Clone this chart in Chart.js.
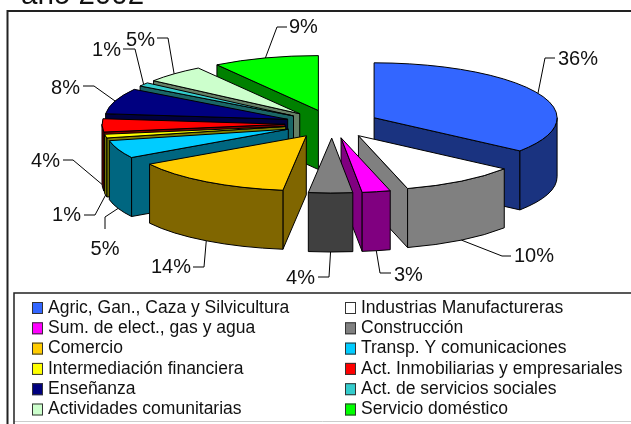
<!DOCTYPE html>
<html><head><meta charset="utf-8">
<style>html,body{margin:0;padding:0;background:#fff;overflow:hidden}canvas{display:block}</style>
<script src="https://cdn.jsdelivr.net/npm/chart.js@4"></script>
</head><body><div style="width:631px;height:424px;position:relative"><canvas id="c" width="631" height="424"></canvas></div>
<script>
const titleText = "año 2002";
const categories = ["Agric, Gan., Caza y Silvicultura","Industrias Manufactureras","Sum. de elect., gas y agua","Construcción","Comercio","Transp. Y comunicaciones","Intermediación financiera","Act. Inmobiliarias y empresariales","Enseñanza","Act. de servicios sociales","Actividades comunitarias","Servicio doméstico"];
const shares = [35.5,10.4,2.5,3.9,14.4,5.3,1.1,3.9,7.6,1.1,5.4,9.4];
const tickLabels = ["36%","10%","3%","4%","14%","5%","1%","4%","8%","1%","5%","9%"];
const topColors = ["#3366FF","#FFFFFF","#FF00FF","#808080","#FFCC00","#00CCFF","#FFFF00","#FF0000","#000080","#33CCCC","#CCFFCC","#00FF00"];
const sideColors = ["#1A3380","#808080","#800080","#404040","#806600","#006680","#808000","#800000","#000040","#1A6666","#668066","#008000"];
// label layout: elbow, end of leader, text anchor
const labelLeaders = [
 [[545,58],[555,58]],[[502,256],[511,256]],[[380,273],[391,273]],[[329,277],[318,277]],
 [[204,267],[193,267]],[[105,217],[105,229]],[[95,215],[84,215]],[[73,160],[63,160]],
 [[94,86],[83,86]],[[135,49],[123,49]],[[168,38],[157,38]],[[277,27],[287,27]]];
const labelPos = [[558,59,'left'],[514,256,'left'],[394,275,'left'],[315,278,'right'],[191,267,'right'],[105,249,'center'],[81,215,'right'],[60,161,'right'],[80,88,'right'],[121,50,'right'],[155,40,'right'],[289,27,'left']];
const SQUASH = 0.3, DEPTH = 59, RADIUS = 183, EXPLODE = 188;
const font = s => s + "px 'Liberation Sans', Arial, sans-serif";

const pie3d = {
  id:'pie3d',
  beforeDatasetsDraw(chart){
    const ctx = chart.ctx, arcs = chart.getDatasetMeta(0).data;
    const items = arcs.map((arc,i)=>{
      const p = arc.getProps(['x','y','startAngle','endAngle','outerRadius']);
      const mid = (p.startAngle+p.endAngle)/2, off = arc.options.offset/4;
      return {i,a0:p.startAngle,a1:p.endAngle,r:p.outerRadius,mid,
        x:p.x+Math.cos(mid)*off, y:p.y+Math.sin(mid)*off*SQUASH};
    });
    const sorted = items.slice().sort((u,v)=>Math.sin(u.mid)-Math.sin(v.mid));
    ctx.save();
    ctx.lineWidth = 1; ctx.strokeStyle = '#000'; ctx.lineJoin = 'round';
    const pt = (s,a)=>[s.x+s.r*Math.cos(a), s.y+s.r*SQUASH*Math.sin(a)];
    const wall = (s,a)=>{
      const [px,py]=pt(s,a);
      ctx.beginPath();ctx.moveTo(s.x,s.y);ctx.lineTo(px,py);ctx.lineTo(px,py+DEPTH);ctx.lineTo(s.x,s.y+DEPTH);ctx.closePath();
      ctx.fillStyle=sideColors[s.i];ctx.fill();ctx.stroke();
    };
    for(const s of sorted){
      if(Math.cos(s.a0)<0) wall(s,s.a0);
      if(Math.cos(s.a1)>0) wall(s,s.a1);
      const lo=Math.max(s.a0,0), hi=Math.min(s.a1,Math.PI);
      if(hi>lo){
        ctx.beginPath();
        ctx.ellipse(s.x,s.y,s.r,s.r*SQUASH,0,lo,hi);
        ctx.ellipse(s.x,s.y+DEPTH,s.r,s.r*SQUASH,0,hi,lo,true);
        ctx.closePath();
        ctx.fillStyle=sideColors[s.i];ctx.fill();ctx.stroke();
      }
      ctx.beginPath();ctx.moveTo(s.x,s.y);
      ctx.ellipse(s.x,s.y,s.r,s.r*SQUASH,0,s.a0,s.a1);ctx.closePath();
      ctx.fillStyle=topColors[s.i];ctx.fill();ctx.stroke();
    }
    // leaders and labels
    ctx.font=font(20);ctx.fillStyle='#111';ctx.textBaseline='middle';
    for(const s of items){
      let [ax,ay]=pt(s,s.mid);
      if(Math.sin(s.mid)>0) ay+=DEPTH;
      ctx.beginPath();ctx.moveTo(ax,ay);
      for(const q of labelLeaders[s.i]) ctx.lineTo(q[0],q[1]);
      ctx.stroke();
      const l=labelPos[s.i];ctx.textAlign=l[2];ctx.fillText(tickLabels[s.i],l[0],l[1]);
    }
    ctx.restore();
    return false;
  },
  beforeDraw(chart){
    const ctx=chart.ctx;ctx.save();
    ctx.fillStyle='#fff';ctx.fillRect(0,0,631,424);
    ctx.fillStyle='#111';ctx.font=font(29.5);ctx.textBaseline='alphabetic';ctx.textAlign='left';
    ctx.fillText(titleText,21,4);
    ctx.strokeStyle='#222';ctx.lineWidth=2;
    ctx.beginPath();ctx.moveTo(7.5,424);ctx.lineTo(7.5,11);ctx.lineTo(631,11);ctx.stroke();
    ctx.restore();
  },
  afterDraw(chart){
    const ctx=chart.ctx;ctx.save();
    ctx.fillStyle='#fff';ctx.fillRect(14,293,617,128);
    ctx.strokeStyle='#ccc';ctx.lineWidth=1;
    ctx.beginPath();ctx.moveTo(14,421.5);ctx.lineTo(631,421.5);ctx.stroke();
    ctx.strokeStyle='#222';ctx.lineWidth=1.5;
    ctx.beginPath();ctx.moveTo(14,424);ctx.lineTo(14,293);ctx.lineTo(631,293);ctx.stroke();
    ctx.font=font(17.5);ctx.textBaseline='middle';ctx.textAlign='left';
    categories.forEach((c,i)=>{
      const col=i%2,row=(i-col)/2,y=308+row*20.3,x=col?345:32;
      ctx.fillStyle=topColors[i];ctx.strokeStyle='#333';ctx.lineWidth=1;
      ctx.fillRect(x,y-6,11,12);ctx.strokeRect(x+.5,y-5.5,10,11);
      ctx.fillStyle='#111';ctx.fillText(c,x+16,y);
    });
    ctx.restore();
  }
};
new Chart(document.getElementById('c'),{
  type:'pie',
  data:{labels:categories,datasets:[{data:shares,backgroundColor:topColors,borderColor:'#000',borderWidth:1,offset:EXPLODE,clip:false}]},
  options:{responsive:false,animation:false,radius:RADIUS,
    layout:{padding:{left:33,bottom:176}},
    plugins:{legend:{display:false},title:{display:false},tooltip:{enabled:false}}},
  plugins:[pie3d]
});
</script></body></html>
